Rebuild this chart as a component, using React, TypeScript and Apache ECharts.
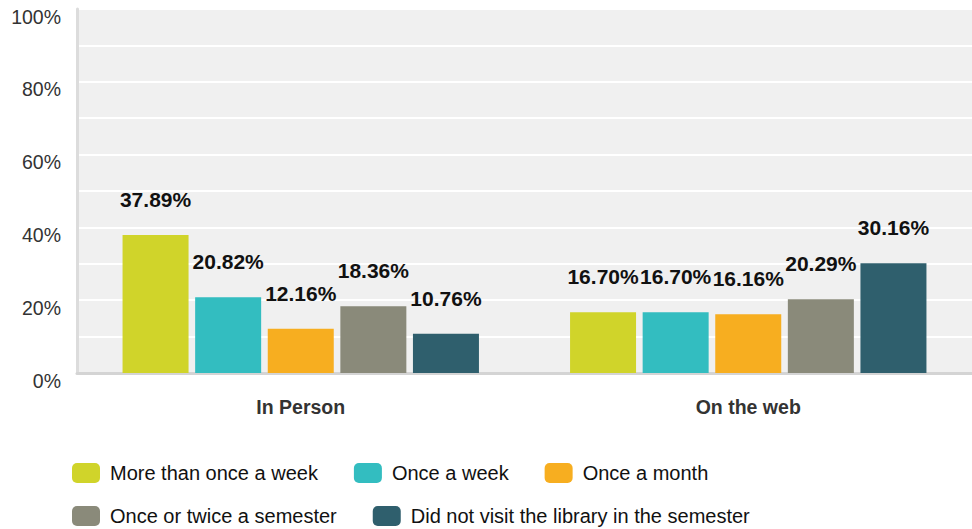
import React, { useEffect, useRef } from "react";
import * as echarts from "echarts";

const categories = ["In Person", "On the web"];
const seriesNames = [
  "More than once a week",
  "Once a week",
  "Once a month",
  "Once or twice a semester",
  "Did not visit the library in the semester",
];
const moreThanOnceAWeek = [37.89, 16.7];
const onceAWeek = [20.82, 16.7];
const onceAMonth = [12.16, 16.16];
const onceOrTwiceASemester = [18.36, 20.29];
const didNotVisit = [10.76, 30.16];
const colors = ["#d0d42a", "#33bdc0", "#f7ae20", "#8a8a7a", "#2f5f6d"];
const yTicks = [0, 20, 40, 60, 80, 100];

const seriesValues = [moreThanOnceAWeek, onceAWeek, onceAMonth, onceOrTwiceASemester, didNotVisit];

export default function App() {
  const ref = useRef<HTMLDivElement>(null);
  useEffect(() => {
    if (!ref.current) return;
    const chart = echarts.init(ref.current, undefined, { renderer: "svg" });
    const font = "Liberation Sans, Arial, sans-serif";
    const legendBase = {
      left: 72,
      padding: 0,
      itemWidth: 28,
      itemHeight: 20,
      itemGap: 36,
      icon: "roundRect",
      textStyle: { fontSize: 20, lineHeight: 20, color: "#111", fontFamily: font, padding: [0, 0, 0, 5] },
    };
    chart.setOption({
      animation: false,
      textStyle: { fontFamily: font },
      grid: { left: 77, right: -6, top: 9, bottom: 156, backgroundColor: "#f0f0f0", show: true, borderWidth: 0 },
      legend: [
        { ...legendBase, data: seriesNames.slice(0, 3), top: 463 },
        { ...legendBase, data: seriesNames.slice(3), top: 506 },
      ],
      xAxis: {
        type: "category",
        data: categories,
        axisLine: { show: true, lineStyle: { color: "#d4d4d4", width: 3 } },
        axisTick: { show: false },
        axisLabel: { fontSize: 19.5, fontWeight: "bold", color: "#333", margin: 24, fontFamily: font },
        splitLine: { show: false },
      },
      yAxis: {
        type: "value",
        min: 0,
        max: 100,
        interval: 10,
        axisLine: { show: true, lineStyle: { color: "#dcdcdc", width: 3 } },
        axisTick: { show: false },
        axisLabel: {
          fontSize: 19.5,
          lineHeight: 15,
          verticalAlign: "top",
          color: "#333",
          margin: 16,
          fontFamily: font,
          formatter: (v: number) => (yTicks.includes(v) ? v + "%" : ""),
        },
        splitLine: { show: true, lineStyle: { color: "#ffffff", width: 2 } },
      },
      series: seriesNames.map((name, i) => ({
        name,
        type: "bar",
        data: seriesValues[i],
        barWidth: 66,
        barGap: "10%",
        itemStyle: { color: colors[i] },
        label: {
          show: true,
          position: "top",
          distance: 25,
          fontSize: 21,
          fontWeight: "bold",
          color: "#111",
          fontFamily: font,
          formatter: (p: any) => p.value.toFixed(2) + "%",
        },
      })),
    });
    return () => chart.dispose();
  }, []);
  return <div ref={ref} style={{ width: 972, height: 529, position: "absolute", left: 0, top: 0 }} />;
}
